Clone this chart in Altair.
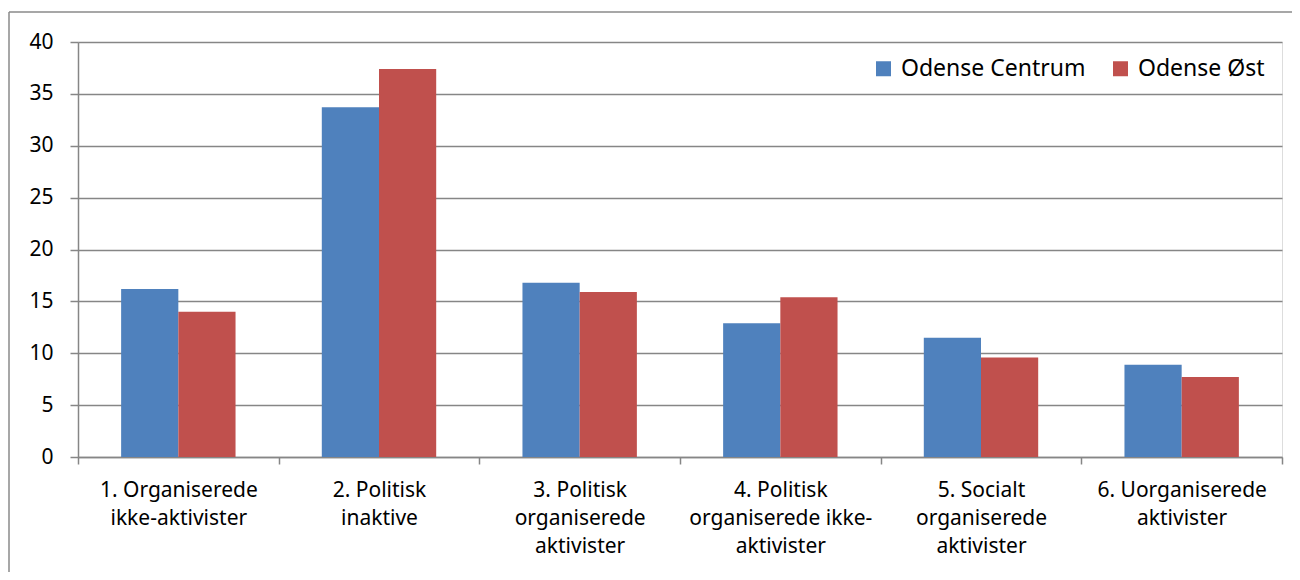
import altair as alt
import pandas as pd

categories = [
    "1. Organiserede ikke-aktivister",
    "2. Politisk inaktive",
    "3. Politisk organiserede aktivister",
    "4. Politisk organiserede ikke-aktivister",
    "5. Socialt organiserede aktivister",
    "6. Uorganiserede aktivister",
]
label_lines = [
    ["1. Organiserede", "ikke-aktivister"],
    ["2. Politisk", "inaktive"],
    ["3. Politisk", "organiserede", "aktivister"],
    ["4. Politisk", "organiserede ikke-", "aktivister"],
    ["5. Socialt", "organiserede", "aktivister"],
    ["6. Uorganiserede", "aktivister"],
]
series = ["Odense Centrum", "Odense Øst"]
centrum = [16.2, 33.7, 16.8, 12.9, 11.5, 8.9]
oest = [14.0, 37.4, 15.9, 15.4, 9.6, 7.7]
colors = ["#4F81BD", "#C0504D"]

rows = []
for i, c in enumerate(categories):
    rows.append({"kategori": c, "serie": series[0], "vaerdi": centrum[i]})
    rows.append({"kategori": c, "serie": series[1], "vaerdi": oest[i]})
df = pd.DataFrame(rows)

expr_parts = []
for c, lines in zip(categories, label_lines):
    arr = "[" + ",".join("'" + l + "'" for l in lines) + "]"
    expr_parts.append(f"datum.value == '{c}' ? {arr}")
label_expr = " : ".join(expr_parts) + " : datum.value"

FONT = "Noto Sans"
GRAY = "#868686"

bars = alt.Chart(df).mark_bar().encode(
    x=alt.X("kategori:N", sort=categories, title=None,
            scale=alt.Scale(paddingInner=0, paddingOuter=0),
            axis=alt.Axis(labelAngle=0, labelExpr=label_expr, tickBand="extent",
                          tickSize=7, tickColor=GRAY, tickWidth=1.5,
                          domainColor=GRAY, domainWidth=1.5,
                          labelFont=FONT, labelFontSize=21, labelColor="#000000",
                          labelPadding=15, labelLineHeight=28, labelLimit=300,
                          labelOverlap=False,
                          labelBaseline="top", grid=False)),
    xOffset=alt.XOffset("serie:N", sort=series,
                        scale=alt.Scale(paddingInner=0, paddingOuter=0.754)),
    y=alt.Y("vaerdi:Q", title=None,
            scale=alt.Scale(domain=[0, 40], nice=False),
            axis=alt.Axis(values=[0, 5, 10, 15, 20, 25, 30, 35, 40],
                          tickSize=8, tickColor=GRAY, tickWidth=1.5,
                          domainColor=GRAY, domainWidth=1.5,
                          gridColor=GRAY, gridWidth=1.5, grid=True,
                          labelFont=FONT, labelFontSize=21, labelColor="#000000",
                          labelPadding=17)),
    color=alt.Color("serie:N", sort=series,
                    scale=alt.Scale(domain=series, range=colors),
                    legend=alt.Legend(title=None, orient="none", direction="horizontal",
                                      legendX=794, legendY=15,
                                      symbolType="square", symbolSize=225,
                                      symbolStrokeWidth=0, labelLimit=400,
                                      labelFont=FONT, labelFontSize=23,
                                      labelColor="#000000", labelOffset=6,
                                      columnPadding=23, padding=0)),
)

frame_data = alt.Data(values=[{}])
frame_top = alt.Chart(frame_data).mark_rule(
    stroke="#8a8a8a", strokeWidth=1.5, clip=False
).encode(x=alt.value(-69), x2=alt.value(1214), y=alt.value(-30))
frame_left = alt.Chart(frame_data).mark_rule(
    stroke="#8a8a8a", strokeWidth=1.5, clip=False
).encode(x=alt.value(-69), y=alt.value(-30), y2=alt.value(530))

chart = alt.layer(frame_top, frame_left, bars).properties(
    width=1204, height=415,
    autosize=alt.AutoSizeParams(type="none"),
    padding={"left": 70, "top": 34, "right": 10, "bottom": 115},
).configure_view(stroke="transparent", strokeWidth=0).configure(background="#ffffff")

chart.save("out.html", embed_options={"renderer": "svg", "actions": False})
